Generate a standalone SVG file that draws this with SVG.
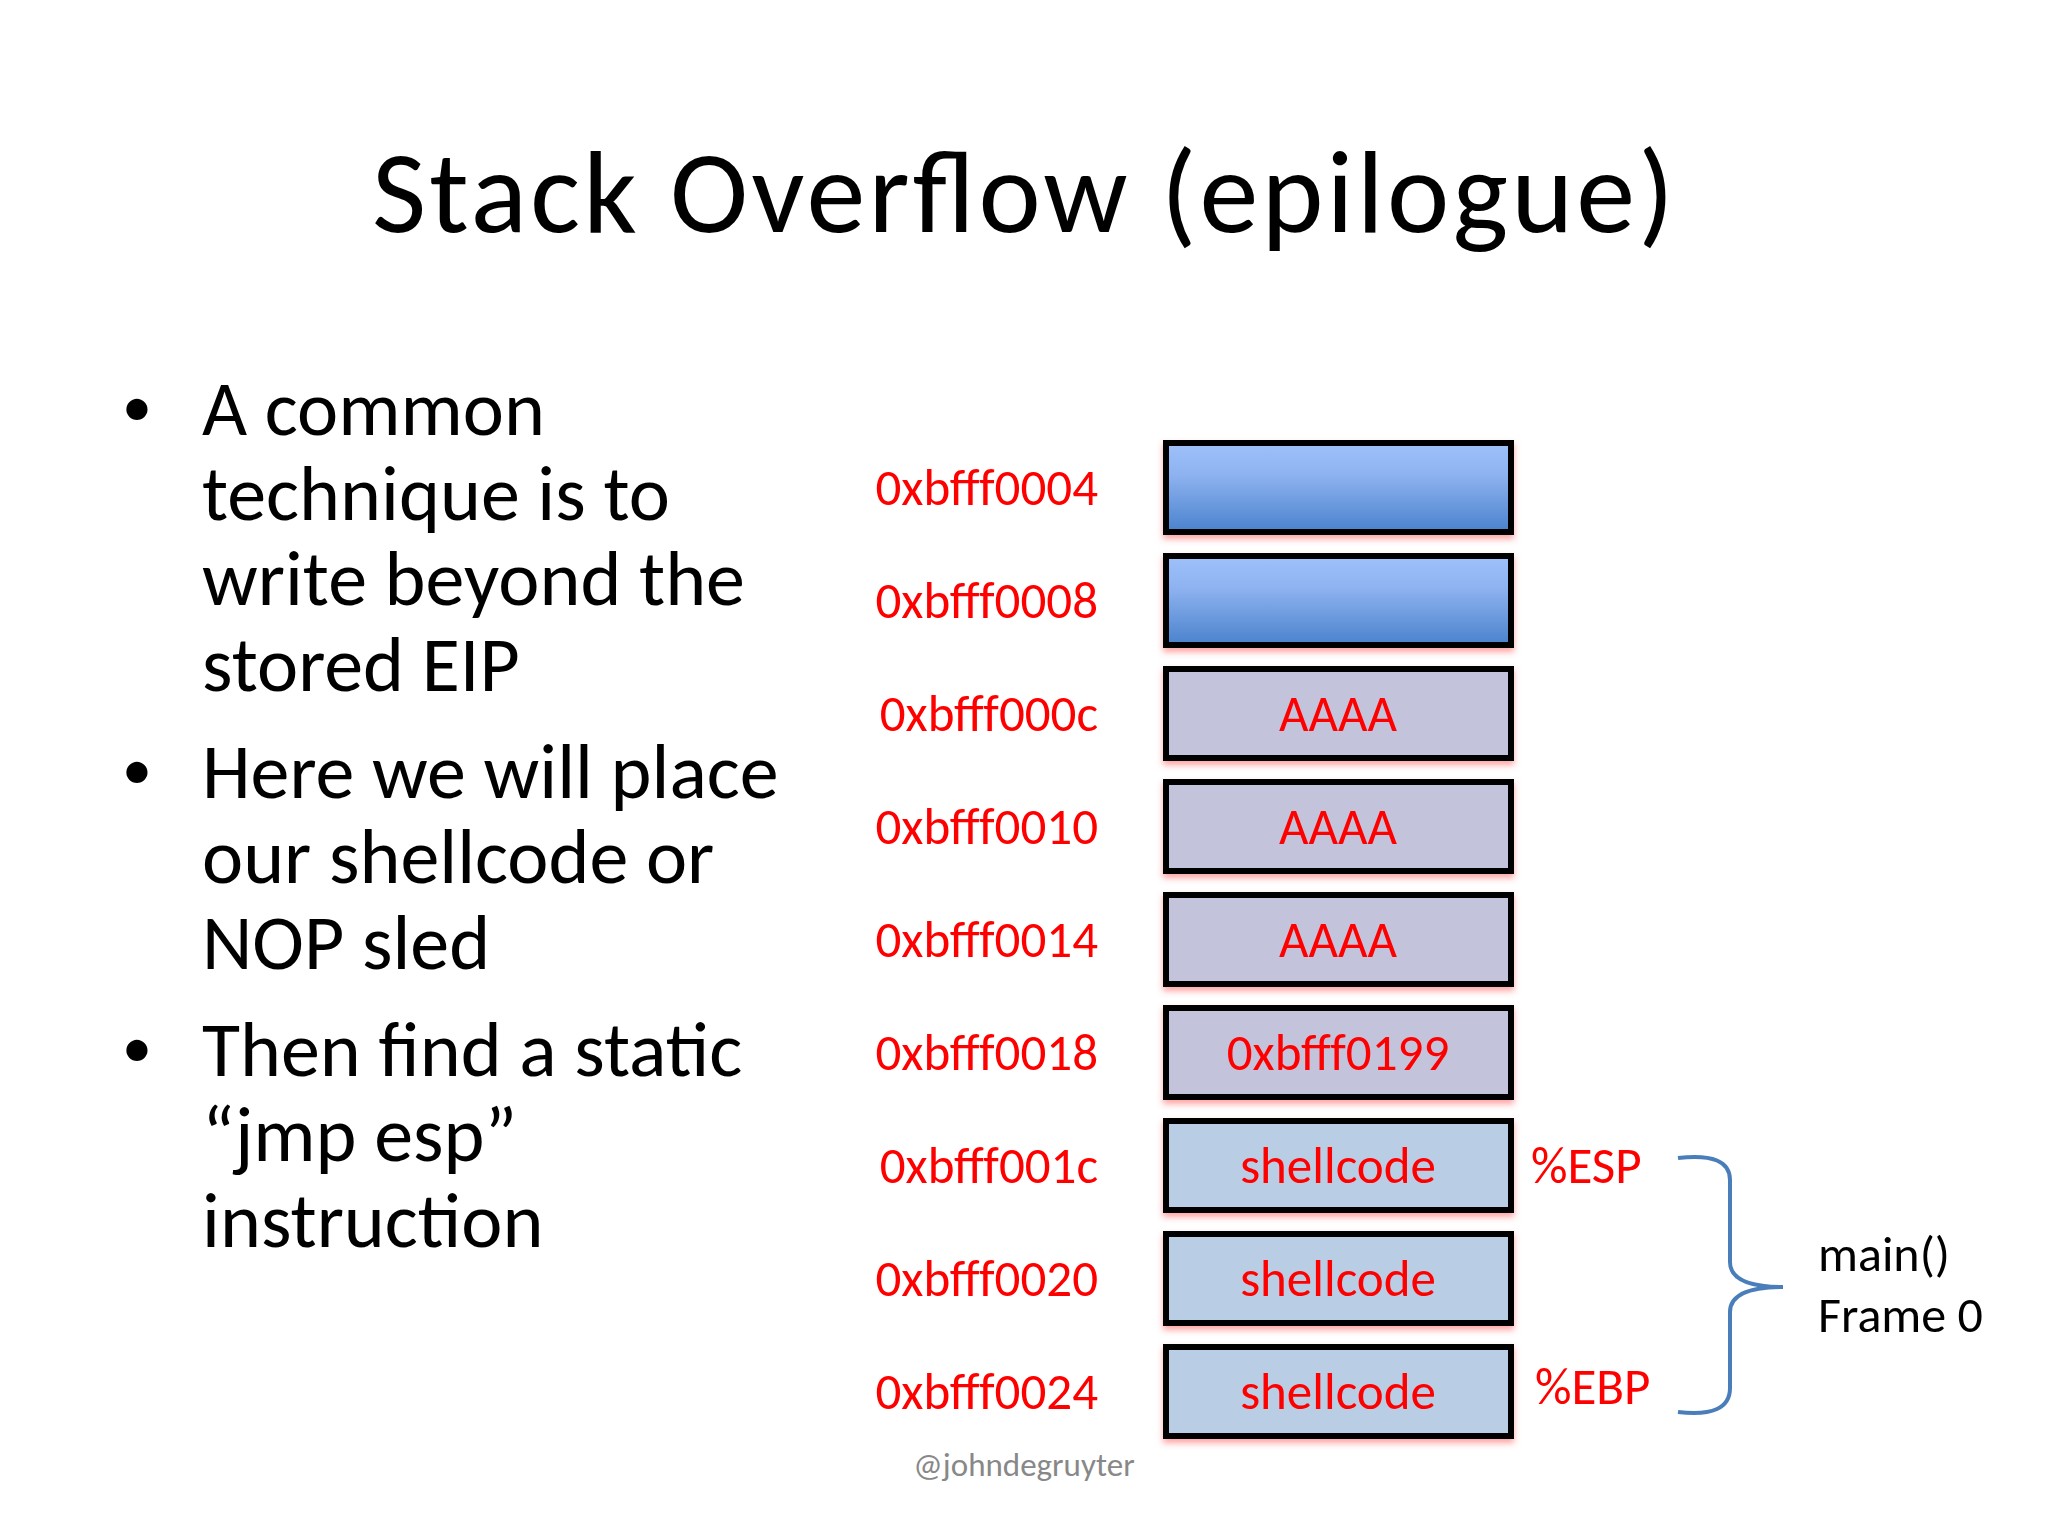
<svg xmlns="http://www.w3.org/2000/svg" width="2048" height="1536" viewBox="0 0 2048 1536">
<style>
text{font-family:Carlito,"Open Sans","Liberation Sans",sans-serif}
.b{font-size:78px;fill:#000}
.d{font-size:60px;fill:#000}
.a{font-size:51px;fill:#f00;text-anchor:end}
.c{font-size:51px;fill:#f00;text-anchor:middle}
.box{stroke:#000;stroke-width:6;filter:url(#sh)}
</style>
<defs>
<linearGradient id="g" x1="0" y1="0" x2="0" y2="1"><stop offset="0" stop-color="#9ec1fb"/><stop offset="0.35" stop-color="#8fb3f0"/><stop offset="1" stop-color="#4a82cd"/></linearGradient>
<filter id="sh" x="-5%" y="-20%" width="110%" height="150%"><feDropShadow dx="0" dy="4" stdDeviation="3" flood-color="#f44" flood-opacity="0.5"/></filter>
</defs>
<rect width="2048" height="1536" fill="#fff"/>
<text x="1023" y="232" font-size="118" text-anchor="middle" textLength="1302">Stack Overflow (epilogue)</text>
<g id="bullets">
<text class="d" x="122" y="426">•</text><text class="d" x="122" y="789">•</text><text class="d" x="122" y="1067">•</text>
<g class="b">
<text x="202" y="435">A common</text>
<text x="202" y="520">technique is to</text>
<text x="202" y="605">write beyond the</text>
<text x="202" y="691">stored EIP</text>
<text x="202" y="798">Here we will place</text>
<text x="202" y="883">our shellcode or</text>
<text x="202" y="969">NOP sled</text>
<text x="202" y="1076">Then find a static</text>
<text x="202" y="1161">“jmp esp”</text>
<text x="202" y="1247">instruction</text>
</g></g>
<g id="n1"><rect class="box" x="1166" y="443" width="345" height="89" fill="url(#g)"/><text class="a" x="1098" y="505">0xbfff0004</text></g>
<g id="n2"><rect class="box" x="1166" y="556" width="345" height="89" fill="url(#g)"/><text class="a" x="1098" y="618">0xbfff0008</text></g>
<g id="n3"><rect class="box" x="1166" y="669" width="345" height="89" fill="#c4c3dc"/><text class="a" x="1098" y="731">0xbfff000c</text><text class="c" x="1338" y="731">AAAA</text></g>
<g id="n4"><rect class="box" x="1166" y="782" width="345" height="89" fill="#c4c3dc"/><text class="a" x="1098" y="844">0xbfff0010</text><text class="c" x="1338" y="844">AAAA</text></g>
<g id="n5"><rect class="box" x="1166" y="895" width="345" height="89" fill="#c4c3dc"/><text class="a" x="1098" y="957">0xbfff0014</text><text class="c" x="1338" y="957">AAAA</text></g>
<g id="n6"><rect class="box" x="1166" y="1008" width="345" height="89" fill="#c4c3dc"/><text class="a" x="1098" y="1070">0xbfff0018</text><text class="c" x="1338" y="1070">0xbfff0199</text></g>
<g id="n7"><rect class="box" x="1166" y="1121" width="345" height="89" fill="#b9cde5"/><text class="a" x="1098" y="1183">0xbfff001c</text><text class="c" x="1338" y="1183">shellcode</text></g>
<g id="n8"><rect class="box" x="1166" y="1234" width="345" height="89" fill="#b9cde5"/><text class="a" x="1098" y="1296">0xbfff0020</text><text class="c" x="1338" y="1296">shellcode</text></g>
<g id="n9"><rect class="box" x="1166" y="1347" width="345" height="89" fill="#b9cde5"/><text class="a" x="1098" y="1409">0xbfff0024</text><text class="c" x="1338" y="1409">shellcode</text></g>
<text x="1531" y="1183" font-size="51" fill="#f00">%ESP</text>
<text x="1535" y="1404" font-size="51" fill="#f00">%EBP</text>
<g id="connectors"><path d="M1678 1158 Q1730 1152 1730 1180 L1730 1262 Q1730 1287 1783 1287 Q1730 1287 1730 1312 L1730 1388 Q1730 1418 1678 1412" fill="none" stroke="#4a7ebb" stroke-width="4"/></g>
<text x="1818" y="1271" font-size="50">main()</text>
<text x="1818" y="1332" font-size="50">Frame 0</text>
<text x="1024" y="1476" font-size="33" fill="#888" text-anchor="middle">@johndegruyter</text>
</svg>
